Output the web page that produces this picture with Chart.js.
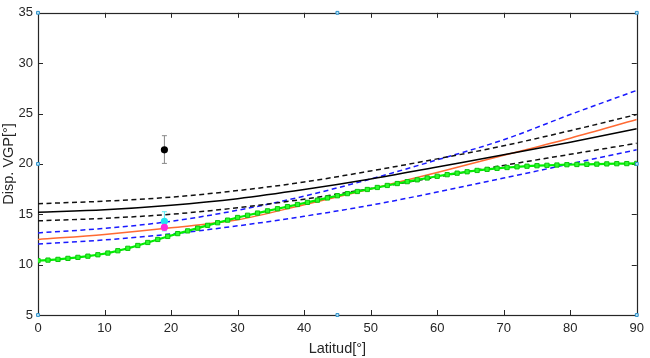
<!DOCTYPE html>
<html>
<head>
<meta charset="utf-8">
<script src="https://cdn.jsdelivr.net/npm/chart.js@4.4.1/dist/chart.umd.min.js"></script>
<style>
  html, body { margin: 0; padding: 0; background: #fff; }
  #wrap { width: 650px; height: 358px; }
</style>
</head>
<body>
<div id="wrap"><canvas id="chart"></canvas></div>
<script>
// latitude grid of the model curves
const lat10 = [0, 10, 20, 30, 40, 50, 60, 70, 80, 90];
const blackMid = [15.2, 15.45, 15.9, 16.55, 17.45, 18.5, 19.7, 20.9, 22.15, 23.5];
const blackHigh = [16.05, 16.3, 16.7, 17.35, 18.2, 19.3, 20.5, 21.8, 23.3, 24.9];
const blackLow = [14.35, 14.6, 15.0, 15.65, 16.5, 17.55, 18.7, 19.85, 20.95, 22.05];
const blueHigh = [13.15, 13.6, 14.3, 15.4, 16.8, 18.5, 20.4, 22.4, 24.9, 27.3];
const blueLow = [12.05, 12.45, 13.05, 13.85, 14.8, 15.9, 17.2, 18.6, 20.0, 21.4];
const orange = [12.5, 13.0, 13.65, 14.45, 15.95, 17.5, 19.15, 20.85, 22.55, 24.4];

// green model (with markers)
const greenLat = [0, 1.5, 3, 4.5, 6, 7.5, 9, 10.5, 12, 13.5, 15, 16.5, 18, 19.5, 21, 22.5, 24, 25.5,
  27, 28.5, 30, 31.5, 33, 34.5, 36, 37.5, 39, 40.5, 42, 43.5, 45, 46.5, 48, 49.5, 51, 52.5, 54, 55.5,
  57, 58.5, 60, 61.5, 63, 64.5, 66, 67.5, 69, 70.5, 72, 73.5, 75, 76.5, 78, 79.5, 81, 82.5, 84, 85.5,
  87, 88.5, 90];
const greenDisp = [10.40, 10.45, 10.52, 10.62, 10.72, 10.84, 10.98, 11.15, 11.38, 11.62, 11.90, 12.20,
  12.50, 12.80, 13.08, 13.35, 13.62, 13.90, 14.16, 14.42, 14.68, 14.90, 15.12, 15.34, 15.55, 15.76,
  15.97, 16.18, 16.40, 16.62, 16.84, 17.05, 17.26, 17.46, 17.66, 17.86, 18.05, 18.24, 18.42, 18.60,
  18.77, 18.93, 19.08, 19.22, 19.35, 19.46, 19.56, 19.64, 19.71, 19.77, 19.82, 19.86, 19.89, 19.92,
  19.94, 19.96, 19.98, 20.00, 20.02, 20.03, 20.05];

// observed values with error bars
const obsLat = [19, 19, 19];
const obsValue = [21.4, 14.3, 13.7];
const obsLow = [20.05, 13.35, 13.45];
const obsHigh = [22.8, 15.25, 13.95];
const obsColor = ['#000000', '#22e3f0', '#ff2ade'];
const obsBarColor = ['#888888', '#55e8f2', '#ff66e6'];

// little selection handles on the axes box
const handleLat = [0, 45, 90, 0, 90, 0, 45, 90];
const handleDisp = [35, 35, 35, 20, 20, 5, 5, 5];

const xTicks = [0, 10, 20, 30, 40, 50, 60, 70, 80, 90];
const yTicks = [5, 10, 15, 20, 25, 30, 35];

const axisColor = '#262626';
const font = 'Arial, "Liberation Sans", Helvetica, sans-serif';

function pts(xs, ys) {
  return xs.map((x, i) => ({ x: x, y: ys[i] }));
}

// lower order = drawn on top
function curve(data, color, dashed, order) {
  return {
    type: 'line',
    order: order,
    data: pts(lat10, data),
    borderColor: color,
    borderWidth: 1.5,
    borderDash: dashed ? [5, 3.5] : [],
    pointRadius: 0,
    cubicInterpolationMode: 'monotone',
    fill: false
  };
}

const datasets = [
  curve(blueHigh, '#1a1aff', true, 9),
  curve(blueLow, '#1a1aff', true, 9),
  curve(blackHigh, '#111111', true, 8),
  curve(blackLow, '#111111', true, 8),
  curve(orange, '#ff6a33', false, 7),
  curve(blackMid, '#000000', false, 6),
  {
    type: 'line',
    order: 5,
    data: pts(greenLat, greenDisp),
    borderColor: '#00f000',
    borderWidth: 2.2,
    pointStyle: 'rect',
    pointRadius: 3,
    pointBorderWidth: 1,
    pointBackgroundColor: '#2cff2c',
    pointBorderColor: '#0cc40c',
    fill: false
  }
];

obsLat.forEach((x, i) => {
  datasets.push({
    type: 'line',
    order: 4 - i * 0.1,
    data: [{ x: x, y: obsLow[i] }, { x: x, y: obsHigh[i] }],
    borderColor: obsBarColor[i],
    borderWidth: 1,
    pointStyle: 'line',
    pointRadius: 2.5,
    pointBorderWidth: 1,
    pointBorderColor: obsBarColor[i],
    fill: false
  });
});
obsLat.forEach((x, i) => {
  datasets.push({
    type: 'scatter',
    order: 2 - i * 0.1,
    data: [{ x: x, y: obsValue[i] }],
    pointRadius: 3.6,
    pointBorderWidth: 0,
    pointBackgroundColor: obsColor[i]
  });
});

datasets.push({
  type: 'scatter',
  order: 0,
  data: pts(handleLat, handleDisp),
  pointStyle: 'rect',
  pointRadius: 2,
  pointBorderWidth: 1,
  pointBackgroundColor: '#bfe6f7',
  pointBorderColor: '#2b8fc9',
  clip: false
});

const boxPlugin = {
  id: 'box',
  beforeDatasetsDraw(chart) {
    const { ctx, chartArea: a, scales } = chart;
    const len = 5;
    ctx.save();
    ctx.strokeStyle = axisColor;
    ctx.lineWidth = 1;
    ctx.beginPath();
    xTicks.forEach(v => {
      const px = Math.round(scales.x.getPixelForValue(v)) + 0.5;
      ctx.moveTo(px, a.bottom); ctx.lineTo(px, a.bottom - len);
      ctx.moveTo(px, a.top); ctx.lineTo(px, a.top + len);
    });
    yTicks.forEach(v => {
      const py = Math.round(scales.y.getPixelForValue(v)) + 0.5;
      ctx.moveTo(a.left, py); ctx.lineTo(a.left + len, py);
      ctx.moveTo(a.right, py); ctx.lineTo(a.right - len, py);
    });
    ctx.stroke();
    ctx.lineWidth = 1.2;
    ctx.strokeRect(Math.round(a.left) + 0.5, Math.round(a.top) + 0.5,
      Math.round(a.right - a.left), Math.round(a.bottom - a.top));
    ctx.restore();
  }
};

new Chart(document.getElementById('chart'), {
  data: { datasets: datasets },
  options: {
    responsive: true,
    maintainAspectRatio: false,
    animation: false,
    layout: { padding: { top: 6, right: 11, left: 0, bottom: 0 } },
    plugins: {
      legend: { display: false },
      tooltip: { enabled: false }
    },
    scales: {
      x: {
        type: 'linear',
        min: 0,
        max: 90,
        afterFit: s => { s.height = 43; },
        afterBuildTicks: s => { s.ticks = xTicks.map(v => ({ value: v })); },
        grid: { display: false, drawTicks: false },
        border: { display: false },
        ticks: { color: axisColor, padding: 6, font: { family: font, size: 13 }, maxRotation: 0 },
        title: {
          display: true,
          text: 'Latitud[°]',
          color: axisColor,
          font: { family: font, size: 14.5 },
          padding: { top: 1, bottom: 0 }
        }
      },
      y: {
        type: 'linear',
        min: 5,
        max: 35,
        afterFit: s => { s.width = 38; },
        afterBuildTicks: s => { s.ticks = yTicks.map(v => ({ value: v })); },
        grid: { display: false, drawTicks: false },
        border: { display: false },
        ticks: { color: axisColor, padding: 5, font: { family: font, size: 13 } },
        title: {
          display: true,
          text: 'Disp. VGP[°]',
          color: axisColor,
          font: { family: font, size: 14.5 },
          padding: { top: 0, bottom: 0 }
        }
      }
    }
  },
  plugins: [boxPlugin]
});
</script>
</body>
</html>
